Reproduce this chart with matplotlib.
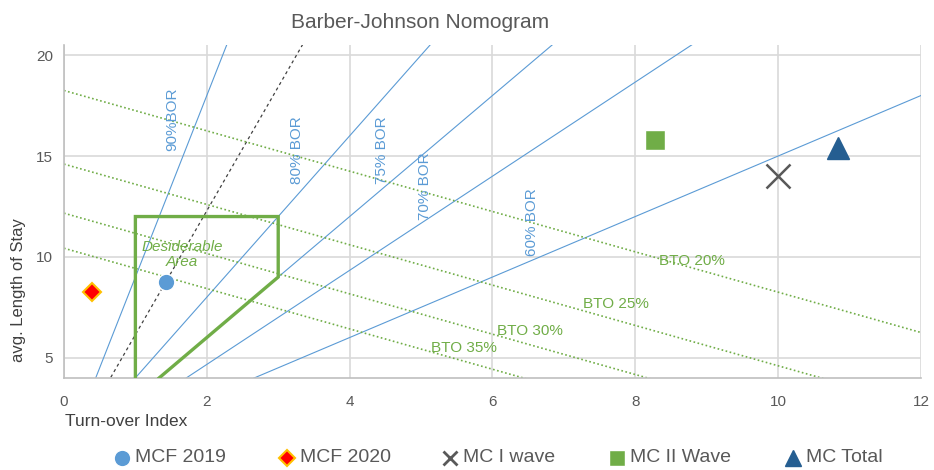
import numpy as np
import matplotlib
matplotlib.use("Agg")
import matplotlib.pyplot as plt

plt.rcParams["font.family"] = ["Liberation Sans", "DejaVu Sans"]

# bed occupancy rate lines (L = T * BOR / (1 - BOR))
bor_levels = [0.90, 0.80, 0.75, 0.70, 0.60]
bor_labels = ["90%BOR", "80% BOR", "75% BOR", "70% BOR", "60% BOR"]
bor_label_x = [1.52, 3.26, 4.46, 5.05, 6.56]
bor_label_y = [16.8, 15.3, 15.3, 13.5, 11.7]
dashed_bor = 0.86

# bed turnover lines (L + T = 365 / BTO)
bto_values = [20, 25, 30, 35]
bto_labels = ["BTO 20%", "BTO 25%", "BTO 30%", "BTO 35%"]
bto_label_x = [8.8, 7.73, 6.52, 5.6]
bto_label_y = [9.8, 7.68, 6.34, 5.5]

# desirable area outline
area_x = [1, 1, 3, 3, 4 / 3]
area_y = [4, 12, 12, 9, 4]

# observed points (turn-over index, avg. length of stay)
series_names = ["MCF 2019", "MCF 2020", "MC I wave", "MC II Wave", "MC Total"]
series_x = [1.43, 0.39, 10.0, 8.27, 10.84]
series_y = [8.77, 8.28, 14.0, 15.8, 15.4]

BLUE = "#5B9BD5"
GREEN = "#70AD47"
GRAY = "#595959"
W, H = 934, 470

fig = plt.figure(figsize=(W / 100, H / 100), dpi=100)
ax = fig.add_axes([0.0685, 0.196, 0.9175, 0.708])

xs = np.array([0, 12.5])
for b in bor_levels:
    ax.plot(xs, xs * b / (1 - b), color=BLUE, lw=0.8, zorder=2)
ax.plot(xs, xs * dashed_bor / (1 - dashed_bor), color="#404040", lw=0.9,
        ls=(0, (2.5, 2.5)), zorder=2)
for lab, lx, ly in zip(bor_labels, bor_label_x, bor_label_y):
    ax.text(lx, ly, lab, color=BLUE, rotation=90, ha="center", va="center", fontsize=11)

for b in bto_values:
    c = 365 / b
    ax.plot(xs, c - xs, color=GREEN, lw=1.2, ls=(0, (1, 1.5)), zorder=2)
for lab, lx, ly in zip(bto_labels, bto_label_x, bto_label_y):
    ax.text(lx, ly, lab, color=GREEN, ha="center", va="center", fontsize=11)

ax.plot(area_x, area_y, color=GREEN, lw=2.4, zorder=3, solid_joinstyle="miter")
ax.text(1.65, 10.1, "Desiderable\nArea", color=GREEN, style="italic", ha="center",
        va="center", fontsize=11, linespacing=1.1)

styles = [
    dict(marker="o", color=BLUE, mec="white", ms=12),
    dict(marker="D", color="#FF0000", mec="#FFC000", mew=1.5, ms=9),
    dict(marker="x", color=GRAY, mew=1.8, ms=17),
    dict(marker="s", color=GREEN, mec="white", ms=15),
    dict(marker="^", color="#255E91", ms=16),
]
for name, x, y, st in zip(series_names, series_x, series_y, styles):
    ax.plot([x], [y], ls="none", label=name, zorder=5, **st)

ax.set_xlim(0, 12)
ax.set_ylim(4, 20.5)
ax.set_xticks(range(0, 13, 2))
ax.set_yticks([5, 10, 15, 20])
ax.grid(True, color="#D9D9D9", lw=1.2)
ax.set_axisbelow(True)
for side in ["top", "right"]:
    ax.spines[side].set_visible(False)
for side in ["left", "bottom"]:
    ax.spines[side].set_color("#BFBFBF")
    ax.spines[side].set_linewidth(1.2)
ax.tick_params(axis="x", length=0, labelsize=11, labelcolor=GRAY, pad=12)
ax.tick_params(axis="y", length=0, labelsize=11, labelcolor=GRAY, pad=8)

fig.text(19 / W, 1 - 290 / H, "avg. Length of Stay", rotation=90, fontsize=12,
         color="#404040", ha="center", va="center")
fig.text(65 / W, 1 - 422 / H, "Turn-over Index", fontsize=12.5,
         color="#404040", ha="left", va="center")
fig.text(420 / W, 1 - 22 / H, "Barber-Johnson Nomogram", ha="center", va="center",
         fontsize=15, color=GRAY)

# legend laid out along the bottom like the original
leg_marker_px = [122, 287, 450, 617, 793]
leg_sizes = [12, 8, 10, 11, 12]
leg_y = 1 - 458 / H
for name, st, mx, ms in zip(series_names, styles, leg_marker_px, leg_sizes):
    s = dict(st)
    s["ms"] = ms
    if s["marker"] == "x":
        s["mew"] = 2
    fig.add_artist(plt.Line2D([mx / W], [leg_y], ls="none", transform=fig.transFigure, **s))
    fig.text((mx + 13) / W, leg_y, name, fontsize=14, color=GRAY, ha="left", va="center")

fig.savefig("out.png", dpi=100)
